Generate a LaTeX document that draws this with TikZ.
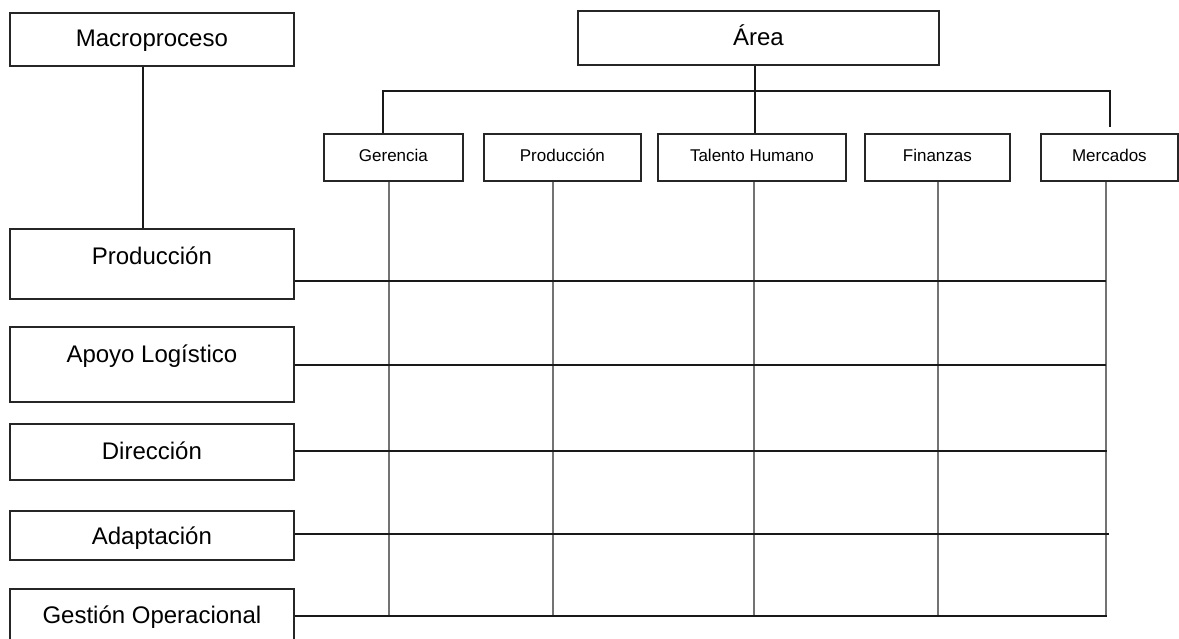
\documentclass[tikz,border=0pt]{standalone}
\usepackage{fontspec}
\setmainfont{Liberation Sans}
\usetikzlibrary{calc}
\begin{document}
\begin{tikzpicture}[x=1pt,y=-1pt,
  box/.style={draw=black!85,line width=1.8pt,inner sep=0pt,anchor=north west},
  bigtxt/.style={font=\fontsize{24}{28}\selectfont},
  smalltxt/.style={font=\fontsize{17}{20}\selectfont},
  link/.style={draw=black!90,line width=1.5pt},
  column/.style={draw=black!55,line width=2.3pt}]
\useasboundingbox (0,0) rectangle (1179,639);
\clip (0,0) rectangle (1179,639);

% process boxes on the left
\node[box,bigtxt,minimum width=284pt,text height=34pt,text depth=19pt] (macro) at (9,12) {Macroproceso};
\node[box,bigtxt,minimum width=284pt,text height=36pt,text depth=34pt] (prod) at (9,228) {Producción};
\node[box,bigtxt,minimum width=284pt,text height=36pt,text depth=39pt] (apoyo) at (9,326) {Apoyo Logístico};
\node[box,bigtxt,minimum width=284pt,text height=36pt,text depth=20pt] (dir) at (9,423) {Dirección};
\node[box,bigtxt,minimum width=284pt,text height=34pt,text depth=15pt] (adap) at (9,510) {Adaptación};
\node[box,bigtxt,minimum width=284pt,text height=35pt,text depth=25pt] (gest) at (9,588) {Gestión Operacional};

% area boxes on top
\node[box,bigtxt,minimum width=361pt,text height=35pt,text depth=19pt] (area) at (577,10) {Área};
\node[box,smalltxt,minimum width=139pt,text height=28pt,text depth=19pt] (ger) at (323,133) {Gerencia};
\node[box,smalltxt,minimum width=157pt,text height=28pt,text depth=19pt] (pro) at (483,133) {Producción};
\node[box,smalltxt,minimum width=188pt,text height=28pt,text depth=19pt] (tal) at (657,133) {Talento Humano};
\node[box,smalltxt,minimum width=145pt,text height=28pt,text depth=19pt] (fin) at (864,133) {Finanzas};
\node[box,smalltxt,minimum width=137pt,text height=28pt,text depth=19pt] (mer) at (1040,133) {Mercados};

% hierarchy connectors
\coordinate (mx) at (143,0);
\draw[link] (macro.south -| mx) -- (prod.north -| mx);
\coordinate (ax) at (755,0);
\coordinate (busL) at (383,91);
\coordinate (busR) at (1110,127);
\draw[link] (area.south -| ax) -- (tal.north -| ax);
\draw[link] (ger.north -| busL) |- (busR |- busL) -- (busR);

% columns below each area
\coordinate (cger) at (389,617);
\coordinate (cpro) at (553,617);
\coordinate (ctal) at (754,617);
\coordinate (cfin) at (938,617);
\coordinate (cmer) at (1106,617);
\draw[column] (ger.south -| cger) -- (cger);
\draw[column] (pro.south -| cpro) -- (cpro);
\draw[column] (tal.south -| ctal) -- (ctal);
\draw[column] (fin.south -| cfin) -- (cfin);
\draw[column] (mer.south -| cmer) -- (cmer);

% rows from each process
\coordinate (rprod) at (1106,281);
\coordinate (rapoyo) at (1106,365);
\coordinate (rdir) at (1107,451);
\coordinate (radap) at (1109,534);
\coordinate (rgest) at (1107,616);
\draw[link] (prod.east |- rprod) -- (rprod);
\draw[link] (apoyo.east |- rapoyo) -- (rapoyo);
\draw[link] (dir.east |- rdir) -- (rdir);
\draw[link] (adap.east |- radap) -- (radap);
\draw[link] (gest.east |- rgest) -- (rgest);
\end{tikzpicture}
\end{document}
